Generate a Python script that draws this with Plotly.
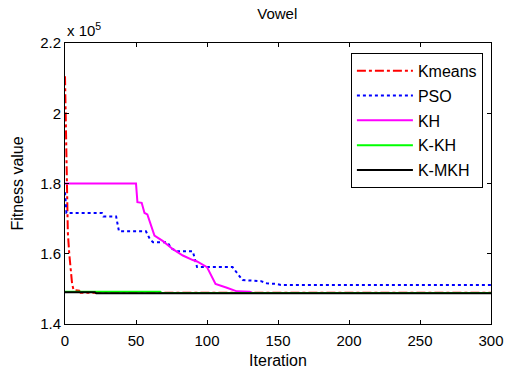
import plotly.graph_objects as go

# Data (fitness values in units of 1e5)
km_x = [0, 1, 2, 3, 4, 5, 6, 10, 11, 300]
km_y = [2.105, 1.85, 1.66, 1.60, 1.55, 1.514, 1.497, 1.495, 1.489, 1.489]

pso_x = [0, 1, 26, 27, 36, 38, 57, 60, 62, 72, 75, 79, 90, 93, 118, 121, 125, 138, 142, 149, 152, 300]
pso_y = [1.775, 1.716, 1.716, 1.706, 1.706, 1.664, 1.664, 1.64, 1.633, 1.633, 1.615, 1.607, 1.607, 1.562,
         1.562, 1.545, 1.525, 1.522, 1.516, 1.514, 1.511, 1.511]

kh_x = [0, 50, 51, 54, 56, 58, 63, 69, 76, 83, 90, 93, 100, 106, 114, 121, 130, 132, 300]
kh_y = [1.80, 1.80, 1.747, 1.745, 1.716, 1.712, 1.652, 1.636, 1.613, 1.595, 1.582, 1.578, 1.562, 1.514,
        1.503, 1.493, 1.492, 1.4885, 1.4885]

kkh_x = [0, 67, 68, 300]
kkh_y = [1.4915, 1.4915, 1.488, 1.488]

kmkh_x = [0, 21, 22, 300]
kmkh_y = [1.4905, 1.4905, 1.4875, 1.4875]

x_ticks = [0, 50, 100, 150, 200, 250, 300]
y_ticks = [1.4, 1.6, 1.8, 2.0, 2.2]
y_tick_text = ["1.4", "1.6", "1.8", "2", "2.2"]

FONT = "Arial, Liberation Sans, sans-serif"

fig = go.Figure()
series = [
    ("Kmeans", km_x, km_y, "#FF0000", "dashdot"),
    ("PSO", pso_x, pso_y, "#0000FF", "dot"),
    ("KH", kh_x, kh_y, "#FF00FF", "solid"),
    ("K-KH", kkh_x, kkh_y, "#00FF00", "solid"),
    ("K-MKH", kmkh_x, kmkh_y, "#000000", "solid"),
]
for i, (name, xs, ys, col, dash) in enumerate(series):
    fig.add_trace(go.Scatter(x=xs, y=ys, name=name, mode="lines",
                             line=dict(color=col, width=2, dash=dash),
                             legendgroup=name))

axis_common = dict(showline=True, linecolor="black", linewidth=1, mirror="ticks",
                   ticks="inside", ticklen=4, tickcolor="black", showgrid=False,
                   zeroline=False, automargin=False,
                   tickfont=dict(family=FONT, size=15, color="black"))

fig.update_layout(
    width=506, height=369,
    margin=dict(l=65, r=15, t=43, b=45),
    plot_bgcolor="white", paper_bgcolor="white",
    font=dict(family=FONT, color="black"),
    title=dict(text="Vowel", x=0.548, xanchor="center", y=0.962, yanchor="middle",
               font=dict(family=FONT, size=15, color="black")),
    xaxis=dict(range=[0, 300], tickvals=x_ticks, ticklabelstandoff=3,
               title=dict(text="Iteration", font=dict(family=FONT, size=16), standoff=6),
               **axis_common),
    yaxis=dict(range=[1.4, 2.2], tickvals=y_ticks, ticktext=y_tick_text,
               title=dict(text="Fitness value", font=dict(family=FONT, size=16), standoff=12),
               **axis_common),
    legend=dict(x=0.981, xanchor="right", y=0.965, yanchor="top",
                bgcolor="white", bordercolor="black", borderwidth=1,
                font=dict(family=FONT, size=16, color="black"),
                tracegroupgap=1, traceorder="grouped", itemwidth=56),
    showlegend=True,
)
fig.add_annotation(text="x 10<sup>5</sup>", xref="paper", yref="paper", x=0, y=1.0,
                   xanchor="left", yanchor="bottom", showarrow=False,
                   font=dict(family=FONT, size=15, color="black"), yshift=2)

fig.write_html("out.html")
